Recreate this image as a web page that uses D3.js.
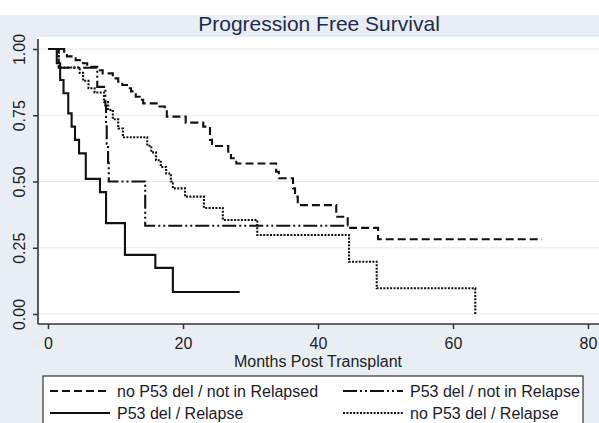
<!DOCTYPE html>
<html><head><meta charset="utf-8">
<script src="https://cdn.jsdelivr.net/npm/d3@7"></script>
<style>html,body{margin:0;padding:0;background:#fff;} svg{display:block;}</style>
</head><body>
<svg id="chart" width="599" height="423"></svg>
<script>
// ---------------- data ----------------
const chartTitle = "Progression Free Survival";
const xAxisTitle = "Months Post Transplant";
const xTicks = [0, 20, 40, 60, 80];
const yTicks = [0, 0.25, 0.5, 0.75, 1];
const yTickLabels = ["0.00", "0.25", "0.50", "0.75", "1.00"];
const seriesLabels = ["no P53 del / not in Relapsed", "P53 del / not in Relapse", "P53 del / Relapse", "no P53 del / Relapse"];

// no P53 del / not in Relapsed (dashed)
const noDelNotRelTime = [0, 2.4, 2.8, 4.1, 5.2, 5.8, 7.3, 8.1, 9.6, 10.4, 11.0, 11.7, 12.3, 13.0, 13.6, 14.1, 16.3, 17.3, 17.6, 20.4, 23.0, 24.0, 24.3, 26.7, 27.1, 27.9, 33.8, 34.2, 36.3, 36.6, 37.0, 42.7, 44.4, 48.9, 73.2];
const noDelNotRelSurv = [1, 0.985, 0.972, 0.958, 0.946, 0.933, 0.92, 0.908, 0.889, 0.877, 0.864, 0.852, 0.84, 0.82, 0.808, 0.795, 0.783, 0.77, 0.745, 0.722, 0.707, 0.657, 0.634, 0.6, 0.588, 0.568, 0.537, 0.512, 0.474, 0.443, 0.411, 0.367, 0.325, 0.282, 0.282];

// P53 del / not in Relapse (dash-dot-dot)
const delNotRelTime = [0, 1.6, 7.3, 8.5, 8.6, 8.7, 8.9, 9.0, 14.4, 44.5];
const delNotRelSurv = [1, 0.929, 0.857, 0.786, 0.714, 0.643, 0.571, 0.5, 0.333, 0.333];

// P53 del / Relapse (solid)
const delRelTime = [0, 1.3, 1.8, 2.3, 3.0, 3.5, 4.0, 4.6, 5.6, 7.7, 8.6, 11.4, 15.9, 18.5, 28.4];
const delRelSurv = [1, 0.946, 0.883, 0.833, 0.757, 0.707, 0.657, 0.606, 0.51, 0.46, 0.343, 0.223, 0.174, 0.083, 0.083];

// no P53 del / Relapse (dotted)
const noDelRelTime = [0, 1.6, 4.7, 5.2, 6.0, 6.9, 8.3, 8.9, 9.6, 10.4, 11.1, 14.7, 15.3, 16.0, 16.7, 17.5, 18.2, 18.5, 20.3, 23.1, 25.9, 31.0, 44.6, 48.7, 63.3];
const noDelRelSurv = [1, 0.93, 0.91, 0.88, 0.852, 0.836, 0.80, 0.77, 0.735, 0.70, 0.667, 0.635, 0.61, 0.58, 0.555, 0.53, 0.50, 0.474, 0.443, 0.40, 0.355, 0.298, 0.197, 0.097, 0];

// ---------------- drawing ----------------
const W = 599, H = 423;
const svg = d3.select("#chart");
const FONT = "'Liberation Sans', Arial, Helvetica, sans-serif";
const bg = "#e8eef4";

const plotL = 38, plotR = 599, plotT = 37, plotB = 324;
const x = d3.scaleLinear().domain([0, 80]).range([48, 588]);
const y = d3.scaleLinear().domain([0, 1]).range([314, 49]);

svg.append("rect").attr("width", W).attr("height", H).attr("fill", "#fff");
svg.append("rect").attr("x", 0).attr("y", 15).attr("width", W).attr("height", H - 15).attr("fill", bg);
svg.append("rect").attr("x", plotL).attr("y", plotT).attr("width", plotR - plotL).attr("height", plotB - plotT).attr("fill", "#fff");

// title
svg.append("text").attr("x", 319).attr("y", 31).attr("text-anchor", "middle")
  .attr("font-family", FONT).attr("font-size", 21).attr("fill", "#1e2b4d").text(chartTitle);

// gridlines
svg.append("g").selectAll("line").data(yTicks).join("line")
  .attr("x1", plotL).attr("x2", plotR).attr("y1", d => y(d)).attr("y2", d => y(d))
  .attr("stroke", "#e4eaf0").attr("stroke-width", 1);

// x axis
const gx = svg.append("g").attr("transform", `translate(0,${plotB})`)
  .call(d3.axisBottom(x).tickValues(xTicks).tickSize(5).tickFormat(d3.format("d")));
gx.select(".domain").remove();
gx.selectAll(".tick line").attr("stroke", "#333").attr("stroke-width", 1.5);
gx.selectAll(".tick text").attr("y", 25).attr("dy", 0)
  .attr("font-family", FONT).attr("font-size", 16).attr("fill", "#222");
svg.append("line").attr("x1", plotL).attr("x2", plotR).attr("y1", plotB).attr("y2", plotB)
  .attr("stroke", "#333").attr("stroke-width", 1.6);

// y axis
const gy = svg.append("g").attr("transform", `translate(${plotL},0)`)
  .call(d3.axisLeft(y).tickValues(yTicks).tickSize(5).tickFormat((d, i) => yTickLabels[i]));
gy.select(".domain").remove();
gy.selectAll(".tick line").attr("stroke", "#333").attr("stroke-width", 1.5);
gy.selectAll(".tick text").attr("x", 0).attr("y", -13).attr("dy", 0)
  .attr("transform", "rotate(-90)").attr("text-anchor", "middle")
  .attr("font-family", FONT).attr("font-size", 16).attr("fill", "#222");
svg.append("line").attr("x1", plotL).attr("x2", plotL).attr("y1", plotT + 2).attr("y2", plotB)
  .attr("stroke", "#333").attr("stroke-width", 1.6);

// x axis title
svg.append("text").attr("x", 318).attr("y", 367).attr("text-anchor", "middle")
  .attr("font-family", FONT).attr("font-size", 16).attr("fill", "#222").text(xAxisTitle);

// series
const dashes = ["8,4", "14,3,2,3,2,3", null, "2,1.4"];
const seriesData = [
  [noDelNotRelTime, noDelNotRelSurv],
  [delNotRelTime, delNotRelSurv],
  [delRelTime, delRelSurv],
  [noDelRelTime, noDelRelSurv]
];
const line = d3.line().x(d => x(d[0])).y(d => y(d[1])).curve(d3.curveStepAfter);
const gs = svg.append("g");
seriesData.forEach((s, i) => {
  const pts = s[0].map((t, j) => [t, s[1][j]]);
  gs.append("path").attr("d", line(pts)).attr("fill", "none")
    .attr("stroke", "#111").attr("stroke-width", 2.1)
    .attr("stroke-dasharray", dashes[i]);
});

// legend
const lg = svg.append("g");
lg.append("rect").attr("x", 43).attr("y", 376).attr("width", 540).attr("height", 70)
  .attr("fill", "#fff").attr("stroke", "#333").attr("stroke-width", 1.2);
const legPos = [[50, 391], [343, 391], [50, 413], [343, 413]];
seriesLabels.forEach((lab, i) => {
  const [lx, ly] = legPos[i];
  lg.append("line").attr("x1", lx).attr("x2", lx + 60).attr("y1", ly).attr("y2", ly)
    .attr("stroke", "#111").attr("stroke-width", 2.1).attr("stroke-dasharray", dashes[i]);
  lg.append("text").attr("x", lx + 67).attr("y", ly + 6)
    .attr("font-family", FONT).attr("font-size", 16).attr("fill", "#1a1a2a").text(lab);
});
</script>
</body></html>
